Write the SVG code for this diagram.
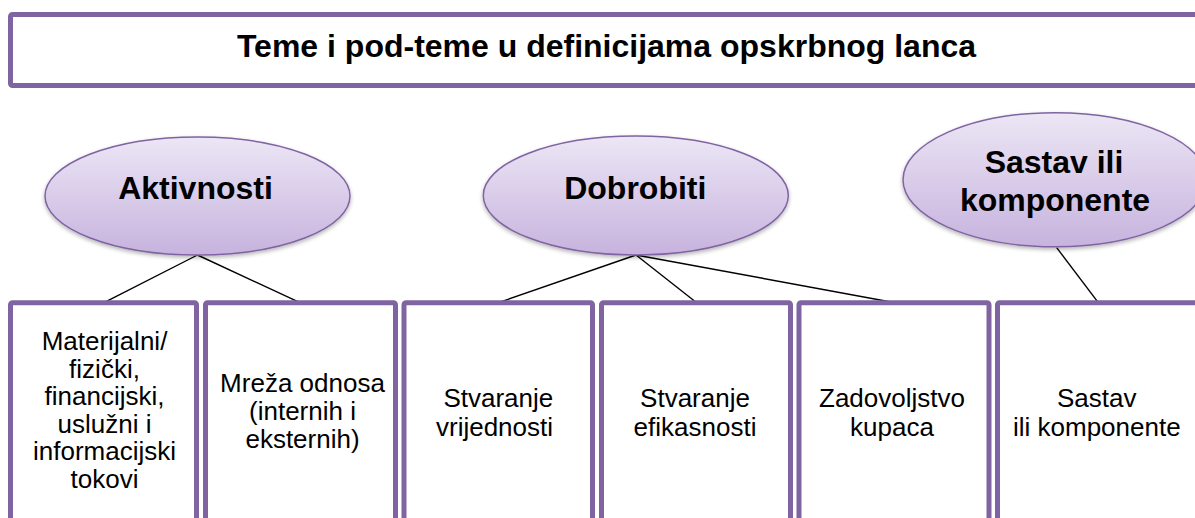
<svg xmlns="http://www.w3.org/2000/svg" width="1195" height="518" viewBox="0 0 1195 518">
<style>
.box{fill:#fff;stroke:#8064A2;stroke-width:5}
.ell{fill:url(#eg);stroke:#8064A2;stroke-width:1.5;filter:url(#sh)}
.conn line{stroke:#000;stroke-width:1.4}
.t{font-family:"Liberation Sans",Arial,sans-serif;fill:#000;text-anchor:middle}
.h{font-size:32px;font-weight:bold}
.b{font-size:26px}
</style>
<defs>
<linearGradient id="eg" x1="0" y1="0" x2="0" y2="1">
<stop offset="0" stop-color="#ECE6F5"/>
<stop offset="1" stop-color="#C7B3DE"/>
</linearGradient>
<filter id="sh" x="-10%" y="-10%" width="120%" height="130%">
<feGaussianBlur in="SourceAlpha" stdDeviation="2"/>
<feOffset dx="0" dy="2" result="o"/>
<feComponentTransfer><feFuncA type="linear" slope="0.3"/></feComponentTransfer>
<feMerge><feMergeNode/><feMergeNode in="SourceGraphic"/></feMerge>
</filter>
</defs>
<rect width="1195" height="518" fill="#fff"/>
<g id="title">
<rect class="box" x="10.5" y="14.5" width="1195" height="71" rx="2"/>
<text class="t h" x="606.5" y="57">Teme i pod-teme u definicijama opskrbnog lanca</text>
</g>
<g class="conn" id="connectors">
<line x1="197.5" y1="255" x2="104" y2="302.7"/>
<line x1="197.5" y1="255" x2="300" y2="302.7"/>
<line x1="636" y1="255" x2="498.3" y2="302.7"/>
<line x1="636" y1="255" x2="696.7" y2="302.7"/>
<line x1="636" y1="255" x2="895" y2="302.7"/>
<line x1="1056.7" y1="247.7" x2="1098.3" y2="302.7"/>
</g>
<g id="aktivnosti">
<ellipse class="ell" cx="197.5" cy="196" rx="152.5" ry="59"/>
<text class="t h" x="195.5" y="199">Aktivnosti</text>
</g>
<g id="dobrobiti">
<ellipse class="ell" cx="635.8" cy="195.5" rx="152.5" ry="59.5"/>
<text class="t h" x="635.3" y="199">Dobrobiti</text>
</g>
<g id="sastav">
<ellipse class="ell" cx="1055" cy="179.7" rx="152" ry="67"/>
<text class="t h" x="1054" y="173.3">Sastav ili</text>
<text class="t h" x="1055" y="210.5">komponente</text>
</g>
<g id="box1">
<rect class="box" x="10.5" y="302.7" width="186" height="240" rx="2"/>
<text class="t b" x="104.5" y="350">Materijalni/</text>
<text class="t b" x="104.5" y="377.6">fizički,</text>
<text class="t b" x="104.5" y="405.2">financijski,</text>
<text class="t b" x="104.5" y="432.8">uslužni i</text>
<text class="t b" x="104.5" y="460.4">informacijski</text>
<text class="t b" x="104.5" y="488">tokovi</text>
</g>
<g id="box2">
<rect class="box" x="205.5" y="302.7" width="190" height="240" rx="2"/>
<text class="t b" x="302.5" y="391.7">Mreža odnosa</text>
<text class="t b" x="302.5" y="420">(internih i</text>
<text class="t b" x="302.5" y="448.3">eksternih)</text>
</g>
<g id="box3">
<rect class="box" x="404" y="302.7" width="188.5" height="240" rx="2"/>
<text class="t b" x="498.3" y="407.3">Stvaranje</text>
<text class="t b" x="494.5" y="436">vrijednosti</text>
</g>
<g id="box4">
<rect class="box" x="601.5" y="302.7" width="189" height="240" rx="2"/>
<text class="t b" x="695" y="407.3">Stvaranje</text>
<text class="t b" x="695" y="436">efikasnosti</text>
</g>
<g id="box5">
<rect class="box" x="799" y="302.7" width="190" height="240" rx="2"/>
<text class="t b" x="892" y="407.3">Zadovoljstvo</text>
<text class="t b" x="892" y="436">kupaca</text>
</g>
<g id="box6">
<rect class="box" x="997.5" y="302.7" width="210" height="240" rx="2"/>
<text class="t b" x="1096.7" y="407.3">Sastav</text>
<text class="t b" x="1096.8" y="436">ili komponente</text>
</g>
</svg>
